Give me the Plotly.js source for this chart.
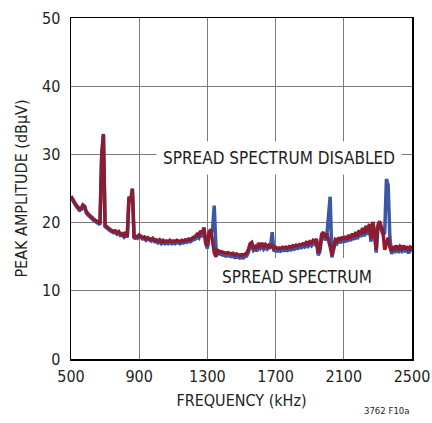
<!DOCTYPE html>
<html>
<head>
<meta charset="utf-8">
<script src="https://cdn.plot.ly/plotly-3.0.1.min.js"></script>
<style>html,body{margin:0;padding:0;background:#fff;}#chart{width:432px;height:423px;}</style>
</head>
<body>
<div id="chart"></div>
<script>
const freqKHz = [
500,510,520,530,540,550,560,570,580,590,
600,610,620,630,640,650,660,670,680,690,
700,710,720,730,740,750,760,770,780,790,
800,810,820,830,840,850,860,870,880,890,
900,910,920,930,940,950,960,970,980,990,
1000,1010,1020,1030,1040,1050,1060,1070,1080,1090,
1100,1110,1120,1130,1140,1150,1160,1170,1180,1190,
1200,1210,1220,1230,1240,1250,1260,1270,1280,1290,
1300,1310,1320,1330,1340,1350,1360,1370,1380,1390,
1400,1410,1420,1430,1440,1450,1460,1470,1480,1490,
1500,1510,1520,1530,1540,1550,1560,1570,1580,1590,
1600,1610,1620,1630,1640,1650,1660,1670,1680,1690,
1700,1710,1720,1730,1740,1750,1760,1770,1780,1790,
1800,1810,1820,1830,1840,1850,1860,1870,1880,1890,
1900,1910,1920,1930,1940,1950,1960,1970,1980,1990,
2000,2010,2020,2030,2040,2050,2060,2070,2080,2090,
2100,2110,2120,2130,2140,2150,2160,2170,2180,2190,
2200,2210,2220,2230,2240,2250,2260,2270,2280,2290,
2300,2310,2320,2330,2340,2350,2360,2370,2380,2390,
2400,2410,2420,2430,2440,2450,2460,2470,2480,2490,
2500];

// spread spectrum (red, drawn on top)
const spreadOn = [
23.9,23.4,23.0,22.6,22.3,22.0,22.1,22.6,22.4,21.6,
21.3,21.0,20.8,20.6,20.4,20.2,20.0,19.9,30.0,33.0,
19.6,19.3,19.2,19.0,18.9,18.7,18.8,18.5,18.7,18.3,
18.4,18.1,18.6,18.0,23.8,23.2,25.0,17.8,18.0,17.9,
18.2,18.0,17.8,17.9,17.6,17.8,17.6,17.5,17.7,17.4,
17.5,17.3,17.5,17.2,17.4,17.2,17.3,17.2,17.4,17.2,
17.3,17.2,17.4,17.3,17.2,17.4,17.3,17.5,17.4,17.6,
17.5,17.7,17.8,18.0,18.3,18.1,18.8,18.4,19.3,17.2,
16.6,18.6,19.0,17.5,15.6,15.0,15.9,15.8,15.7,15.6,
15.6,15.5,15.6,15.5,15.4,15.5,15.3,15.4,15.3,15.2,
15.3,15.2,15.4,15.5,16.0,16.9,17.1,16.3,16.5,16.2,
17.0,16.6,17.0,16.5,16.8,16.5,16.7,16.4,16.6,16.2,
16.4,16.2,16.3,16.2,16.4,16.3,16.4,16.3,16.5,16.4,
16.6,16.5,16.7,16.6,16.8,16.7,16.9,16.8,17.1,16.9,
17.2,17.0,17.4,17.2,17.6,15.6,16.2,18.3,18.6,17.8,
18.4,17.6,16.5,15.2,16.6,17.5,17.3,17.8,17.4,17.9,
17.5,18.0,17.6,18.2,17.7,18.4,17.9,18.6,18.0,18.9,
18.3,19.2,18.4,19.5,18.6,19.8,17.6,20.1,18.8,16.0,
19.6,20.2,19.4,18.6,16.0,17.2,17.8,16.4,15.8,16.5,
16.2,16.6,16.0,16.5,16.2,16.6,16.1,16.5,15.9,16.4,
16.2];

// spread spectrum disabled (blue, underneath)
const spreadOff = [
23.7,23.2,22.8,22.4,22.1,21.8,21.9,22.4,22.2,21.4,
21.1,20.8,20.6,20.4,20.2,20.0,19.8,19.7,29.6,32.8,
19.4,19.1,19.0,18.8,18.7,18.5,18.6,18.3,18.5,18.1,
18.2,17.9,18.4,17.8,23.6,23.0,24.8,17.6,17.8,17.7,
18.0,17.8,17.6,17.7,17.4,17.6,17.4,17.3,17.5,17.2,
17.2,17.0,17.2,16.9,17.1,16.9,17.0,16.9,17.1,16.9,
17.0,16.9,17.1,17.0,16.9,17.1,17.0,17.2,17.1,17.3,
17.2,17.4,17.5,17.6,17.9,17.7,18.3,17.9,18.8,16.9,
16.2,18.2,18.6,18.8,22.5,16.4,15.5,15.4,15.3,15.2,
15.2,15.1,15.2,15.1,15.0,15.1,14.9,15.0,14.9,14.8,
14.9,14.8,15.0,15.1,15.6,16.5,16.7,15.9,16.1,15.8,
16.6,16.2,16.6,16.1,16.4,16.1,16.3,16.4,18.6,15.8,
16.0,15.8,15.9,15.8,16.0,15.9,16.0,15.9,16.1,16.0,
16.2,16.1,16.3,16.2,16.4,16.3,16.5,16.4,16.7,16.5,
16.8,16.6,17.0,16.8,17.2,15.2,15.8,17.9,18.2,17.4,
18.0,20.5,23.8,14.9,16.2,17.1,16.9,17.4,17.0,17.5,
17.1,17.6,17.2,17.8,17.3,18.0,17.5,18.2,17.6,18.5,
17.9,18.8,18.0,19.1,18.2,19.4,17.2,19.7,18.4,15.6,
19.2,19.8,19.0,18.2,18.5,26.4,25.5,18.0,15.4,16.1,
15.8,16.2,15.6,16.1,15.8,16.2,15.7,16.1,15.5,16.0,
15.8];

const xTicks = [500, 900, 1300, 1700, 2100, 2500];
const yTicks = [0, 10, 20, 30, 40, 50];

const FONT = '"DejaVu Sans Condensed", "Liberation Sans", sans-serif';
const TXT = '#231f20';

const traces = [
  {x: freqKHz, y: spreadOff, type: 'scatter', mode: 'lines', name: 'Spread spectrum disabled',
   line: {color: '#3b57a6', width: 3.5}, hoverinfo: 'skip'},
  {x: freqKHz, y: spreadOn, type: 'scatter', mode: 'lines', name: 'Spread spectrum',
   line: {color: '#8c1c32', width: 3.5}, hoverinfo: 'skip'}
];

const layout = {
  width: 432, height: 423,
  margin: {l: 71, r: 20, t: 18, b: 64},
  paper_bgcolor: '#fff', plot_bgcolor: '#fff',
  showlegend: false,
  font: {family: FONT, color: TXT, size: 16},
  xaxis: {
    range: [500, 2500], tickvals: xTicks, ticktext: xTicks.map(String),
    showgrid: true, gridcolor: '#7a7a7a', gridwidth: 1,
    showline: true, linecolor: '#000', linewidth: 1.5, mirror: true,
    ticks: '', zeroline: false, ticklabelstandoff: 2, ticklabeloverflow: 'allow',
    tickfont: {family: FONT, size: 16, color: TXT},
    title: {text: 'FREQUENCY (kHz)', font: {family: FONT, size: 16, color: TXT}, standoff: 10},
    automargin: false
  },
  yaxis: {
    range: [0, 50], tickvals: yTicks, ticktext: yTicks.map(String),
    showgrid: true, gridcolor: '#7a7a7a', gridwidth: 1,
    showline: true, linecolor: '#000', linewidth: 1.5, mirror: true,
    ticks: '', zeroline: false, ticklabelstandoff: 6, ticklabeloverflow: 'allow',
    tickfont: {family: FONT, size: 16, color: TXT},
    title: {text: 'PEAK AMPLITUDE (dBμV)', font: {family: FONT, size: 16, color: TXT}, standoff: 10},
    automargin: false
  },
  shapes: [
    {type: 'rect', xref: 'x', yref: 'y', x0: 1315, x1: 2500, y0: 10.15, y1: 14.8,
     fillcolor: '#fff', line: {width: 0}, layer: 'between'}
  ],
  annotations: [
    {x: 1719, y: 29.5, xref: 'x', yref: 'y', text: 'SPREAD SPECTRUM DISABLED', showarrow: false,
     bgcolor: '#fff', borderpad: 6, font: {family: FONT, size: 17, color: TXT}},
    {x: 1825, y: 12.0, xref: 'x', yref: 'y', text: 'SPREAD SPECTRUM', showarrow: false,
     font: {family: FONT, size: 17, color: TXT}},
    {x: 1, y: -0.15, xref: 'paper', yref: 'paper', xanchor: 'right', yanchor: 'middle',
     text: '3762 F10a', showarrow: false, font: {family: FONT, size: 9.5, color: TXT}}
  ]
};

Plotly.newPlot('chart', traces, layout, {displayModeBar: false, staticPlot: true});
</script>
</body>
</html>
